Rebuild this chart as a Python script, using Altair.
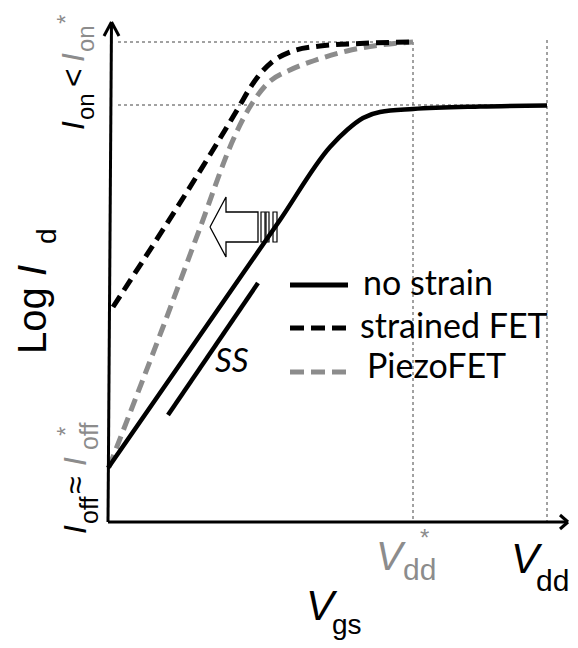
import altair as alt
import pandas as pd

# ---- data (schematic units: x = V_gs, y = log I_d, origin at the axes corner) ----
no_strain_x = [0, 172, 222, 239, 255, 272, 305, 372, 439]
no_strain_y = [54, 302, 375, 392, 404, 410, 413, 415.5, 416.5]
strained_x = [5, 132, 142, 152, 164, 182, 212, 252, 305]
strained_y = [215, 417, 434, 448, 460, 470, 476, 478.5, 480]
piezo_x = [1, 55, 92, 125, 135, 145, 159, 182, 205, 239, 272, 305]
piezo_y = [55, 195, 294, 382, 403, 420, 438, 452, 461, 471, 477, 480]

vdd_star, vdd = 305, 439
ion_star, ion = 480, 417
ss_x = [60, 150]
ss_y = [107, 239]
legend_labels = ["no strain", "strained FET", "PiezoFET"]

GRAY = "#8c8c8c"
XS = alt.Scale(domain=[-100, 462], nice=False, zero=False)
YS = alt.Scale(domain=[-118, 514], nice=False, zero=False)
X = alt.X("x:Q", scale=XS, axis=None)
Y = alt.Y("y:Q", scale=YS, axis=None)


def curve(xs, ys, **kw):
    df = pd.DataFrame({"x": xs, "y": ys, "o": range(len(xs))})
    return alt.Chart(df).mark_line(interpolate="monotone", **kw).encode(
        x=X, y=Y, order="o:Q")


def segs(rows, **kw):
    df = pd.DataFrame(rows, columns=["x", "y", "x2", "y2"])
    return alt.Chart(df).mark_rule(**kw).encode(x=X, y=Y, x2="x2:Q", y2="y2:Q")


def texts(rows, font, style):
    df = pd.DataFrame(rows, columns=["t", "x", "y", "size", "color", "angle"])
    return alt.Chart(df).mark_text(
        align="left", baseline="alphabetic", font=font, fontStyle=style
    ).encode(
        x=X, y=Y, text="t:N",
        size=alt.Size("size:Q", scale=None),
        color=alt.Color("color:N", scale=None),
        angle=alt.Angle("angle:Q", scale=None),
    )


guides = segs(
    [[10, ion_star, vdd_star, ion_star],
     [10, ion, vdd, ion],
     [vdd_star, ion_star, vdd_star, 0],
     [vdd, ion_star + 2, vdd, 0]],
    color="#444444", strokeWidth=1, strokeDash=[3, 3])

no_strain = curve(no_strain_x, no_strain_y, color="black", strokeWidth=4.5)
strained = curve(strained_x, strained_y, color="black", strokeWidth=5,
                 strokeDash=[13, 7], strokeCap="butt")
piezo = curve(piezo_x, piezo_y, color=GRAY, strokeWidth=5,
              strokeDash=[13, 7], strokeCap="butt")

ss_line = segs([[ss_x[0], ss_y[0], ss_x[1], ss_y[1]]], color="black",
               strokeWidth=4.5)

# hollow shift arrow
arrow_x = [102, 118, 118, 150, 150, 118, 118, 102]
arrow_y = [295, 325, 310, 310, 280, 280, 265, 295]
arrow = alt.Chart(pd.DataFrame({"x": arrow_x, "y": arrow_y,
                                "o": range(len(arrow_x))})).mark_line(
    color="black", strokeWidth=1.3).encode(x=X, y=Y, order="o:Q")
bars = alt.Chart(pd.DataFrame({"x": [153, 158, 165], "x2": [157, 161, 169],
                               "y": [280, 280, 280], "y2": [310, 310, 310]})
                 ).mark_rect(fill="white", stroke="black", strokeWidth=1.2
                             ).encode(x=X, y=Y, x2="x2:Q", y2="y2:Q")

# legend
leg_solid = segs([[182, 237, 240, 237]], color="black", strokeWidth=5)
leg_dash = segs([[182, 194, 240, 194]], color="black", strokeWidth=5,
                strokeDash=[14, 7], strokeCap="butt")
leg_gray = segs([[182, 150, 240, 150]], color=GRAY, strokeWidth=5,
                strokeDash=[14, 7], strokeCap="butt")
leg_text = texts([[legend_labels[0], 255, 227, 34, "black", 0],
                  [legend_labels[1], 252, 184, 34, "black", 0],
                  [legend_labels[2], 259, 144, 34, "black", 0]],
                 "Lato", "normal")
ss_text = texts([["SS", 107, 150, 33, "black", 0]], "Lato", "italic")

# axes with open arrow heads
axes = segs([[0, 0, 3.5, 500], [0, 0, 460, 0]], color="black", strokeWidth=3)
heads = segs([[3.5, 500, -4, 486], [3.5, 500, 11, 486],
              [460, 0, 452, 7], [460, 0, 452, -7]],
             color="black", strokeWidth=3)

# math labels
upright = texts([
    ["Log", -62, 168, 40, "black", 270],
    ["d", -52, 278, 28, "black", 270],
    ["on", -14, 402, 24, "black", 270],
    ["<", -24, 435, 32, "black", 270],
    ["on", -14, 470, 24, GRAY, 270],
    ["*", -34, 498, 24, GRAY, 270],
    ["off", -10, -2, 25, "black", 270],
    ["\u2248", -22, 28, 32, "black", 270],
    ["off", -10, 72, 25, GRAY, 270],
    ["*", -34, 86, 24, GRAY, 270],
    ["dd", 295, -58, 30, GRAY, 0],
    ["*", 312, -24, 24, GRAY, 0],
    ["dd", 428, -69, 30, "black", 0],
    ["gs", 224, -112, 28, "black", 0],
], "Liberation Sans", "normal")
italic = texts([
    ["I", -62, 246, 40, "black", 270],
    ["I", -24, 392, 32, "black", 270],
    ["I", -24, 460, 32, GRAY, 270],
    ["I", -22, -12, 32, "black", 270],
    ["I", -22, 56, 32, GRAY, 270],
    ["V", 268, -48, 40, GRAY, 0],
    ["V", 403, -51, 42, "black", 0],
    ["V", 198, -98, 42, "black", 0],
], "Liberation Sans", "italic")

chart = alt.layer(
    guides, bars, arrow, piezo, strained, no_strain, ss_line,
    leg_solid, leg_dash, leg_gray, leg_text, ss_text,
    axes, heads, upright, italic,
).properties(
    width=562, height=632, padding=0,
    autosize=alt.AutoSizeParams(type="none"),
).configure_view(stroke=None)

chart.save("out.html", embed_options={"renderer": "svg", "actions": False})
